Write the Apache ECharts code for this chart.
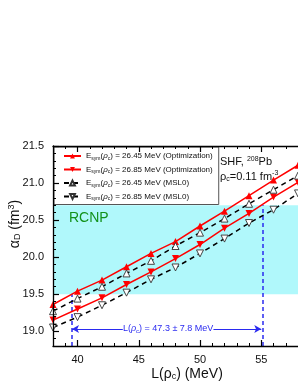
<!DOCTYPE html>
<html>
<head>
<meta charset="utf-8">
<script src="https://cdn.jsdelivr.net/npm/echarts@6/dist/echarts.min.js"></script>
<style>
html,body{margin:0;padding:0;background:#fff;}
#c{width:298px;height:385px;}
</style>
</head>
<body>
<div id="c"></div>
<script>
// ---- data ----
const L = [38, 40, 42, 44, 46, 48, 50, 52, 54, 56, 58];
const optA = [19.36, 19.54, 19.69, 19.87, 20.05, 20.21, 20.42, 20.62, 20.83, 21.04, 21.24];
const optB = [19.15, 19.30, 19.45, 19.63, 19.80, 19.98, 20.17, 20.39, 20.59, 20.81, 21.01];
const mslA = [19.27, 19.44, 19.60, 19.78, 19.95, 20.15, 20.33, 20.52, 20.72, 20.91, 21.10];
const mslB = [19.05, 19.19, 19.35, 19.52, 19.70, 19.86, 20.05, 20.25, 20.46, 20.64, 20.86];
const xTicks = [40, 45, 50, 55];
const yTicks = [19.0, 19.5, 20.0, 20.5, 21.0, 21.5];
const band = [19.5, 20.7];
const Lrange = [39.5, 55.1];
const arrowY = 19.03;
const seriesNames = ['optA', 'optB', 'mslA', 'mslB'];
const legendText = {
  optA: 'E{sub|sym}({rho|ρ}{sub|c}) = 26.45 MeV (Optimization)',
  optB: 'E{sub|sym}({rho|ρ}{sub|c}) = 26.85 MeV (Optimization)',
  mslA: 'E{sub|sym}({rho|ρ}{sub|c}) = 26.45 MeV (MSL0)',
  mslB: 'E{sub|sym}({rho|ρ}{sub|c}) = 26.85 MeV (MSL0)'
};

const FONT = '"Liberation Sans", Arial, sans-serif';
const pair = arr => L.map((x, i) => [x, arr[i]]);
const chart = echarts.init(document.getElementById('c'), null, {renderer: 'canvas'});

const gridRect = {left: 53, top: 146, right: -1, bottom: 39};
const axisLineStyle = {color: '#000', width: 1.3};

function mkSeries(name, data, color, dashed, filled, rot) {
  return {
    name: name, type: 'line', data: data, xAxisIndex: 0, yAxisIndex: 0,
    symbol: 'triangle', symbolSize: 7, symbolRotate: rot,
    lineStyle: {color: color, width: 1.5, type: dashed ? [5, 4] : 'solid'},
    itemStyle: filled ? {color: color, borderColor: color, borderWidth: 0}
                      : {color: '#fff', borderColor: '#333', borderWidth: 0.9},
    z: 5, animation: false
  };
}

const option = {
  animation: false,
  grid: [Object.assign({}, gridRect), Object.assign({}, gridRect)],
  xAxis: [
    {gridIndex: 0, type: 'value', position: 'bottom', min: 38, max: 58, z: 10,
     axisLine: {show: true, lineStyle: axisLineStyle},
     axisTick: {show: true, inside: true, length: 6, customValues: xTicks, lineStyle: {color: '#000', width: 1.2}},
     axisLabel: {show: true, customValues: xTicks, margin: 8, color: '#111', fontSize: 11, fontFamily: FONT},
     splitLine: {show: false}},
    {gridIndex: 0, type: 'value', position: 'top', min: 38, max: 58, z: 10,
     axisLine: {show: true, lineStyle: axisLineStyle},
     axisTick: {show: true, inside: true, length: 6, customValues: xTicks, lineStyle: {color: '#000', width: 1.2}},
     axisLabel: {show: false}, splitLine: {show: false}},
    {gridIndex: 1, type: 'value', position: 'bottom', min: 38, max: 58, interval: 1, z: 10,
     axisLine: {show: false},
     axisTick: {show: true, inside: true, length: 3, lineStyle: {color: '#000', width: 1}},
     axisLabel: {show: false}, splitLine: {show: false}},
    {gridIndex: 1, type: 'value', position: 'top', min: 38, max: 58, interval: 1, z: 10,
     axisLine: {show: false},
     axisTick: {show: true, inside: true, length: 3, lineStyle: {color: '#000', width: 1}},
     axisLabel: {show: false}, splitLine: {show: false}}
  ],
  yAxis: [
    {gridIndex: 0, type: 'value', position: 'left', min: 18.8, max: 21.5, z: 10,
     axisLine: {show: true, lineStyle: axisLineStyle},
     axisTick: {show: true, inside: true, length: 6, customValues: yTicks, lineStyle: {color: '#000', width: 1.2}},
     axisLabel: {show: true, customValues: yTicks, margin: 9, color: '#111', fontSize: 11, fontFamily: FONT,
                 formatter: v => v.toFixed(1)},
     splitLine: {show: false}},
    {gridIndex: 1, type: 'value', position: 'left', min: 18.8, max: 21.5, interval: 0.1, z: 10,
     axisLine: {show: false},
     axisTick: {show: true, inside: true, length: 3, lineStyle: {color: '#000', width: 1}},
     axisLabel: {show: false}, splitLine: {show: false}}
  ],
  legend: {
    show: true, orient: 'vertical', left: 54, top: 147,
    data: seriesNames,
    backgroundColor: '#fff', borderColor: '#555', borderWidth: 1,
    padding: [4, 6, 3, 9], itemGap: 3.5, itemWidth: 17, itemHeight: 6,
    formatter: n => legendText[n],
    textStyle: {fontSize: 8, fontFamily: FONT, color: '#111', lineHeight: 10,
      rich: {sub: {fontSize: 5, fontFamily: FONT, color: '#111', verticalAlign: 'bottom', lineHeight: 10, padding: [3, 0, 0, 0]},
             rho: {fontSize: 8, fontFamily: FONT, fontStyle: 'italic', color: '#111', lineHeight: 10}}}
  },
  series: [
    {name: 'band', type: 'line', data: [], xAxisIndex: 0, yAxisIndex: 0, z: 1, silent: true,
     markArea: {silent: true, itemStyle: {color: '#b0f8fb'},
       data: [[{yAxis: band[0]}, {yAxis: band[1]}]]},
     markLine: {silent: true, symbol: 'none', animation: false,
       lineStyle: {color: '#2a2af0', width: 1.5, type: [4, 3]}, label: {show: false},
       data: [
         [{coord: [Lrange[0], 18.8]}, {coord: [Lrange[0], band[0]]}],
         [{coord: [Lrange[1], 18.8]}, {coord: [Lrange[1], band[1]]}]
       ]},
     markPoint: {silent: true, symbol: 'circle', symbolSize: 0, animation: false,
       data: [
         {coord: [39.3, 20.53], label: {show: true, position: 'inside', align: 'left', formatter: 'RCNP',
            color: '#12911a', fontSize: 14, fontFamily: FONT}}
       ]}
    },
    {name: 'arrows', type: 'line', data: [], xAxisIndex: 0, yAxisIndex: 0, z: 6, silent: true,
     markLine: {silent: true, animation: false, symbol: ['arrow', 'none'], symbolSize: [6, 7],
       lineStyle: {color: '#2a2af0', width: 1, type: 'solid'}, label: {show: false},
       data: [
         [{coord: [Lrange[0] + 0.05, arrowY], symbol: 'arrow'}, {coord: [43.7, arrowY], symbol: 'none'}],
         [{coord: [51.1, arrowY], symbol: 'none'}, {coord: [Lrange[1] - 0.1, arrowY], symbol: 'arrow'}]
       ]},
     markPoint: {silent: true, symbol: 'circle', symbolSize: 0, animation: false,
       data: [
         {coord: [47.4, arrowY], label: {show: true, position: 'inside', align: 'center',
            formatter: 'L({r|ρ}{s|c}) = 47.3 ± 7.8 MeV', color: '#2a2af0', fontSize: 9, fontFamily: FONT,
            rich: {r: {fontSize: 9, fontStyle: 'italic', color: '#2a2af0', fontFamily: FONT},
                   s: {fontSize: 6, color: '#2a2af0', fontFamily: FONT, verticalAlign: 'bottom', padding: [4, 0, 0, 0]}}}}
       ]}
    },
    mkSeries('optA', pair(optA), '#ff0000', false, true, 0),
    mkSeries('optB', pair(optB), '#ff0000', false, true, 180),
    mkSeries('mslA', pair(mslA), '#000000', true, false, 0),
    mkSeries('mslB', pair(mslB), '#000000', true, false, 180)
  ],
  graphic: [
    {type: 'text', x: 220, y: 156, z: 20, style: {
      text: 'SHF, {sup|208}Pb', fontSize: 11, fontFamily: FONT, fill: '#111',
      rich: {sup: {fontSize: 7, fontFamily: FONT, fill: '#111', verticalAlign: 'top', padding: [0, 0, 5, 0]}}}},
    {type: 'text', x: 220, y: 170, z: 20, style: {
      text: 'ρ{sub|c}=0.11 fm{sup|-3}', fontSize: 11, fontFamily: FONT, fill: '#111',
      rich: {sub: {fontSize: 7, fontFamily: FONT, fill: '#111', verticalAlign: 'bottom', padding: [5, 0, 0, 0]},
             sup: {fontSize: 7, fontFamily: FONT, fill: '#111', verticalAlign: 'top', padding: [0, 0, 6, 0]}}}},
    {type: 'text', x: 187, y: 374, z: 20, style: {
      text: 'L({r|ρ}{s|c}) (MeV)', fontSize: 14, fontFamily: FONT, fill: '#111', align: 'center', verticalAlign: 'middle',
      rich: {r: {fontSize: 14, fontFamily: FONT, fill: '#111'},
             s: {fontSize: 9, fontFamily: FONT, fill: '#111', verticalAlign: 'bottom', padding: [6, 0, 0, 0]}}}},
    {type: 'text', x: 15, y: 224, rotation: Math.PI / 2, z: 20, style: {
      text: 'α{s|D} (fm{p|3})', fontSize: 14, fontFamily: FONT, fill: '#111', align: 'center', verticalAlign: 'middle',
      rich: {s: {fontSize: 9, fontFamily: FONT, fill: '#111', verticalAlign: 'bottom', padding: [6, 0, 0, 0]},
             p: {fontSize: 9, fontFamily: FONT, fill: '#111', verticalAlign: 'top', padding: [0, 0, 6, 0]}}}}
  ]
};
chart.setOption(option);
</script>
</body>
</html>
